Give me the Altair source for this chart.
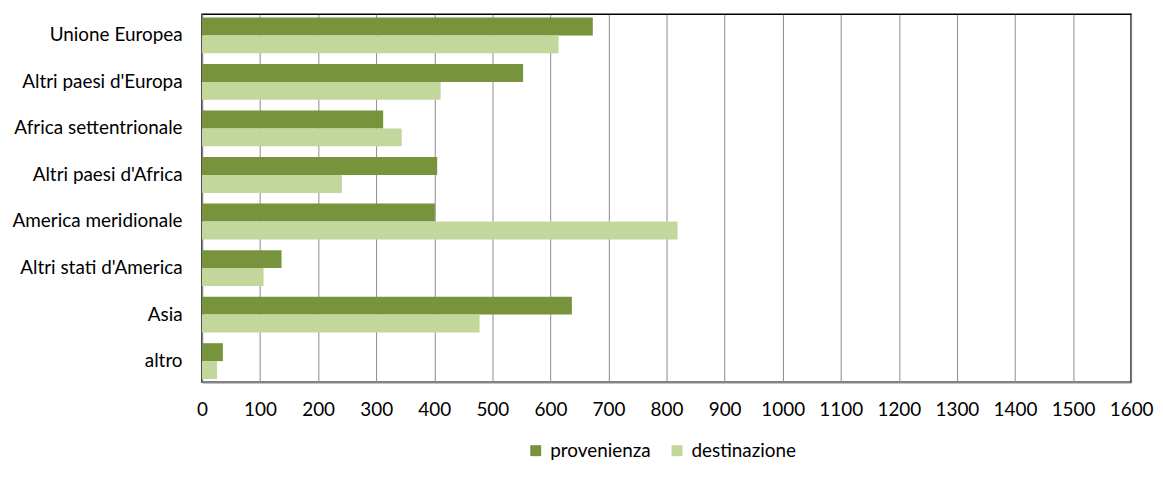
import altair as alt
import pandas as pd

categories = ["Unione Europea", "Altri paesi d'Europa", "Africa settentrionale",
              "Altri paesi d'Africa", "America meridionale", "Altri stati d'America",
              "Asia", "altro"]
provenienza = [673, 553, 312, 405, 401, 137, 637, 36]
destinazione = [614, 411, 344, 241, 819, 106, 478, 26]
series = ["provenienza", "destinazione"]
colors = ["#77933C", "#C3D69B"]
x_ticks = list(range(0, 1601, 100))

rows = []
for c, p, d in zip(categories, provenienza, destinazione):
    rows.append({"cat": c, "serie": "provenienza", "val": p})
    rows.append({"cat": c, "serie": "destinazione", "val": d})
df = pd.DataFrame(rows)

FONT = "Lato"
FS = 19

chart = alt.Chart(df).mark_bar(size=18).encode(
    x=alt.X("val:Q", scale=alt.Scale(domain=[0, 1600], nice=False),
            axis=alt.Axis(values=x_ticks, format="d", title=None, grid=True, ticks=False,
                          labelPadding=18, labelFontSize=FS, labelFont=FONT,
                          labelColor="#000", domainColor="#868686", domainWidth=1.5,
                          gridColor="#8c8c8c", gridWidth=1, labelFlush=False)),
    y=alt.Y("cat:N", sort=categories,
            scale=alt.Scale(paddingInner=0.23, paddingOuter=0.07),
            axis=alt.Axis(title=None, ticks=False, labelPadding=20, labelFontSize=FS,
                          labelFont=FONT, labelColor="#000", domainColor="#868686",
                          domainWidth=1.5, grid=False)),
    yOffset=alt.YOffset("serie:N", sort=series),
    color=alt.Color("serie:N", sort=series,
                    scale=alt.Scale(domain=series, range=colors),
                    legend=alt.Legend(title=None, orient="none", direction="horizontal",
                                      legendX=326, legendY=429, symbolType="square",
                                      symbolSize=121, symbolStrokeWidth=0,
                                      labelFontSize=FS, labelFont=FONT, labelColor="#000",
                                      labelOffset=5, columnPadding=16, padding=0)),
).properties(
    width=934, height=370,
    autosize=alt.AutoSizeParams(type="none"),
    padding={"left": 195, "top": 5, "right": 24, "bottom": 100},
).configure_view(stroke="#000", strokeWidth=1.5)

chart.save("out.html", embed_options={"renderer": "svg", "actions": False})
